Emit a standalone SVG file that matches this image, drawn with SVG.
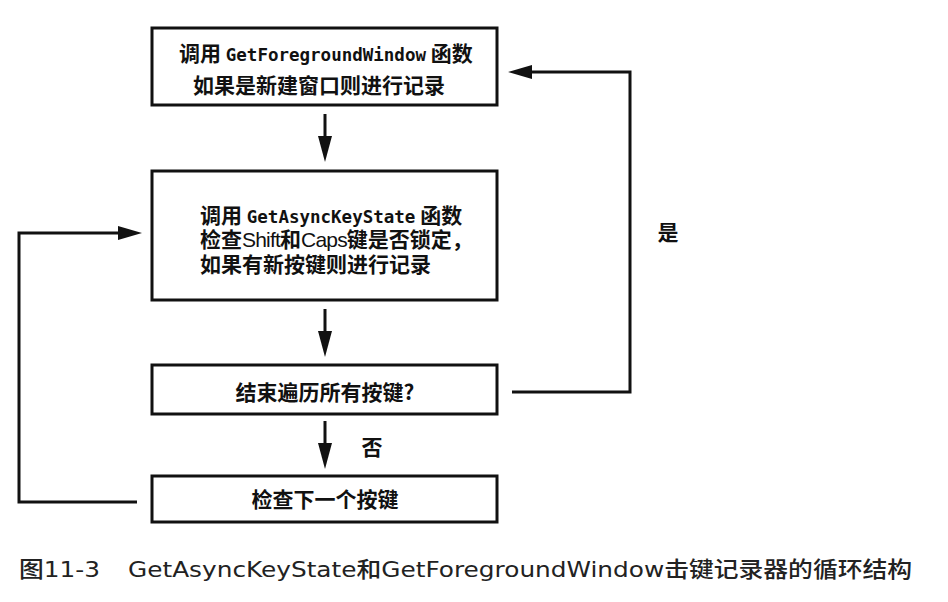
<svg xmlns="http://www.w3.org/2000/svg" width="948" height="602" viewBox="0 0 948 602">
<defs>
<style>
.box{fill:#fff;stroke:#111;stroke-width:3}
.ln{fill:none;stroke:#111;stroke-width:3}
.cjk{font-family:"Noto Sans CJK SC","Liberation Sans",sans-serif;font-size:21px;font-weight:600;fill:#111}
.mono{font-family:"DejaVu Sans Mono","Liberation Mono",monospace;font-size:17.5px;font-weight:bold}
.lat{font-family:"Liberation Sans",Arial,sans-serif;font-size:21px;letter-spacing:-0.8px;font-weight:normal}
.cap{font-family:"DejaVu Sans","Noto Sans CJK SC",sans-serif;font-size:22px;font-weight:500;fill:#222}
</style>
</defs>
<rect width="948" height="602" fill="#fff"/>
<g id="connectors">
<line class="ln" x1="325" y1="114" x2="325" y2="138"/>
<path d="M318,136 L332,136 L325,162 z" fill="#111"/>
<line class="ln" x1="325" y1="309" x2="325" y2="333"/>
<path d="M318,331 L332,331 L325,357 z" fill="#111"/>
<line class="ln" x1="325" y1="421" x2="325" y2="445"/>
<path d="M318,443 L332,443 L325,469 z" fill="#111"/>
<polyline class="ln" points="512,392 630,392 630,72 530,72"/>
<path d="M532,65 L532,79 L508,72 z" fill="#111"/>
<polyline class="ln" points="137,502 19,502 19,233 120,233"/>
<path d="M118,226 L118,240 L142,233 z" fill="#111"/>
<text class="cjk" x="668" y="240" text-anchor="middle">是</text>
<text class="cjk" x="372" y="455" text-anchor="middle">否</text>
</g>
<g id="node1">
<rect class="box" x="152" y="28" width="345" height="77"/>
<text class="cjk" x="179" y="61">调用 <tspan class="mono">GetForegroundWindow</tspan> 函数</text>
<text class="cjk" x="193" y="93">如果是新建窗口则进行记录</text>
</g>
<g id="node2">
<rect class="box" x="152" y="171" width="345" height="129"/>
<text class="cjk" x="200" y="223">调用 <tspan class="mono">GetAsyncKeyState</tspan> 函数</text>
<text class="cjk" x="200" y="247">检查<tspan class="lat">Shift</tspan>和<tspan class="lat">Caps</tspan>键是否锁定，</text>
<text class="cjk" x="200" y="272">如果有新按键则进行记录</text>
</g>
<g id="node3">
<rect class="box" x="152" y="365" width="345" height="49"/>
<text class="cjk" x="325" y="400" text-anchor="middle">结束遍历所有按键?</text>
</g>
<g id="node4">
<rect class="box" x="152" y="476" width="345" height="46"/>
<text class="cjk" x="325" y="507" text-anchor="middle">检查下一个按键</text>
</g>
<g id="caption">
<text class="cap" x="19" y="577" textLength="81" lengthAdjust="spacingAndGlyphs">图11-3</text>
<text class="cap" x="128" y="577" textLength="784" lengthAdjust="spacingAndGlyphs">GetAsyncKeyState和GetForegroundWindow击键记录器的循环结构</text>
</g>
</svg>
